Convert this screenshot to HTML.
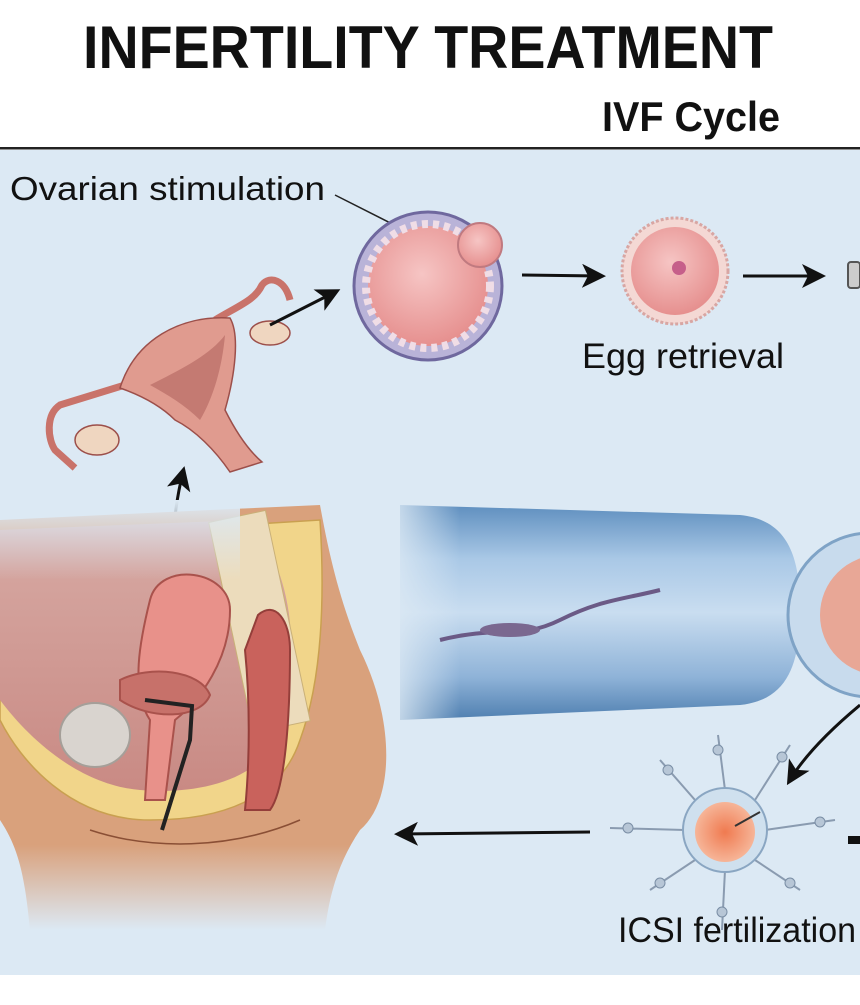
<!DOCTYPE html>
<html><head><style>
html,body{margin:0;padding:0;background:#fff;}
body{width:860px;height:1000px;overflow:hidden;position:relative;font-family:"Liberation Sans Narrow","Liberation Sans",sans-serif;}
</style></head><body>
<svg width="860" height="1000" viewBox="0 0 860 1000" xmlns="http://www.w3.org/2000/svg" font-family="Liberation Sans Narrow, Liberation Sans, sans-serif">
<defs>
<linearGradient id="tube" x1="0" y1="0" x2="0" y2="1">
<stop offset="0" stop-color="#5f8fbf"/><stop offset="0.25" stop-color="#a9c8e6"/><stop offset="0.5" stop-color="#c9ddf0"/><stop offset="0.8" stop-color="#8fb3d8"/><stop offset="1" stop-color="#4f7fb0"/>
</linearGradient>
<linearGradient id="tubefade" x1="0" y1="0" x2="1" y2="0">
<stop offset="0" stop-color="#dce9f4" stop-opacity="0.8"/><stop offset="0.15" stop-color="#dce9f4" stop-opacity="0"/>
</linearGradient>
<linearGradient id="bodyfade" x1="0" y1="0" x2="0" y2="1">
<stop offset="0.8" stop-color="#d9a17c" stop-opacity="1"/><stop offset="1" stop-color="#d9a17c" stop-opacity="0"/>
</linearGradient>
<linearGradient id="topfade" x1="0" y1="0" x2="0" y2="1">
<stop offset="0" stop-color="#dce9f4" stop-opacity="1"/><stop offset="1" stop-color="#dce9f4" stop-opacity="0"/>
</linearGradient>
<radialGradient id="pink" cx="0.45" cy="0.4" r="0.6"><stop offset="0" stop-color="#f6c5c4"/><stop offset="1" stop-color="#e6908f"/></radialGradient>
<radialGradient id="orange" cx="0.5" cy="0.5" r="0.5"><stop offset="0" stop-color="#f07a50"/><stop offset="1" stop-color="#f6b598"/></radialGradient>
<linearGradient id="cav" x1="0" y1="0" x2="0" y2="1"><stop offset="0" stop-color="#d7aaa4"/><stop offset="1" stop-color="#c98a84"/></linearGradient>
<marker id="ah" markerWidth="8" markerHeight="8" refX="6" refY="4" orient="auto" markerUnits="strokeWidth"><path d="M0,0 L8,4 L0,8 L2,4 Z" fill="#111"/></marker>
</defs>
<rect x="0" y="0" width="860" height="150" fill="#fff"/>
<text x="428" y="68" text-anchor="middle" font-size="60" font-weight="bold" fill="#111" textLength="690" lengthAdjust="spacingAndGlyphs">INFERTILITY TREATMENT</text>
<text x="780" y="131" text-anchor="end" font-size="42" font-weight="bold" fill="#111" textLength="178" lengthAdjust="spacingAndGlyphs">IVF Cycle</text>
<rect x="0" y="147" width="860" height="2.5" fill="#222"/>
<rect x="0" y="150" width="860" height="825" fill="#dce9f4"/>
<text x="10" y="200" font-size="33" fill="#111" textLength="315" lengthAdjust="spacingAndGlyphs">Ovarian stimulation</text>
<line x1="335" y1="195" x2="420" y2="238" stroke="#222" stroke-width="1.5"/>
<circle cx="428" cy="286" r="74" fill="#b9b3d8" stroke="#6f689e" stroke-width="3"/>
<circle cx="428" cy="286" r="60" fill="url(#pink)"/>
<circle cx="428" cy="286" r="62" fill="none" stroke="#f0dde6" stroke-width="8" stroke-dasharray="6 5"/>
<circle cx="480" cy="245" r="22" fill="url(#pink)" stroke="#c07a80" stroke-width="2"/>
<line x1="522" y1="275" x2="600" y2="276" stroke="#111" stroke-width="3" marker-end="url(#ah)"/>
<circle cx="675" cy="271" r="53" fill="#f4d8d4" stroke="#d8a6a3" stroke-width="3" stroke-dasharray="3 2"/>
<circle cx="675" cy="271" r="44" fill="url(#pink)"/>
<circle cx="679" cy="268" r="7" fill="#c65f8a"/>
<line x1="743" y1="276" x2="820" y2="276" stroke="#111" stroke-width="3" marker-end="url(#ah)"/>
<rect x="848" y="262" width="12" height="26" rx="3" fill="#ccc" stroke="#555" stroke-width="2"/>
<text x="582" y="368" font-size="35" fill="#111" textLength="202" lengthAdjust="spacingAndGlyphs">Egg retrieval</text>
<g stroke="#9c4f4a" stroke-width="1.5">
<path d="M125,385 L60,405 C45,415 48,440 55,450 L75,468" fill="none" stroke="#c9736a" stroke-width="7"/>
<path d="M215,320 C240,305 255,300 262,285 C270,275 285,280 290,300" fill="none" stroke="#c9736a" stroke-width="7"/>
<path d="M120,388 C135,340 180,315 230,318 C240,335 235,375 225,410 C235,430 248,450 262,462 L230,472 C215,450 195,430 175,420 C160,405 140,395 120,388 Z" fill="#e09b8f"/>
<path d="M150,385 C180,370 210,355 225,335 C222,370 212,400 200,420 C185,405 168,395 150,385 Z" fill="#c47a72" stroke="none"/>
<ellipse cx="97" cy="440" rx="22" ry="15" fill="#efd6c0"/>
<ellipse cx="270" cy="333" rx="20" ry="12" fill="#efd6c0"/>
</g>
<line x1="270" y1="325" x2="335" y2="292" stroke="#111" stroke-width="3" marker-end="url(#ah)"/>
<path d="M172,570 C172,530 176,500 183,472" fill="none" stroke="#111" stroke-width="3" marker-end="url(#ah)"/>
<path d="M0,520 L210,510 L320,505 C330,560 340,600 360,650 C395,720 395,800 360,830 C340,860 330,890 325,930 L30,930 C25,880 20,850 0,820 Z" fill="url(#bodyfade)"/>
<path d="M0,540 L320,520 C325,600 322,680 300,740 C280,800 220,820 150,820 C70,820 20,760 0,720 Z" fill="#f1d58a" stroke="#c9a050" stroke-width="1.5"/>
<path d="M0,530 L245,520 C290,560 300,640 285,720 C270,780 200,795 140,790 C80,785 30,740 0,700 Z" fill="url(#cav)"/>
<rect x="230" y="515" width="58" height="215" fill="#ecdcbc" stroke="#c9b078" stroke-width="1" transform="rotate(-12 255 620)"/>
<rect x="0" y="500" width="240" height="80" fill="url(#topfade)"/>
<path d="M150,600 C160,560 230,570 230,610 C230,660 200,700 175,720 L165,800 L145,800 L150,720 C130,690 140,640 150,600 Z" fill="#e8918a" stroke="#a9524c" stroke-width="2"/>
<path d="M258,615 C275,600 290,620 290,650 C290,720 285,790 270,810 L245,810 C250,760 250,700 245,650 Z" fill="#c9625c" stroke="#943e3a" stroke-width="2"/>
<path d="M120,680 C150,665 200,670 210,695 C200,720 150,720 120,700 Z" fill="#c7716a" stroke="#a9524c" stroke-width="2"/>
<ellipse cx="95" cy="735" rx="35" ry="32" fill="#d9d4cf" stroke="#a59f99" stroke-width="2"/>
<path d="M145,700 L192,706 L190,740 L162,830" fill="none" stroke="#222" stroke-width="4"/>
<path d="M90,830 C150,850 230,850 300,820" fill="none" stroke="#8a4f35" stroke-width="1.5"/>
<path d="M400,505 L740,515 C790,520 800,560 800,610 C800,660 790,700 740,705 L400,720 Z" fill="url(#tube)"/>
<rect x="400" y="500" width="400" height="225" fill="url(#tubefade)"/>
<path d="M440,640 C500,625 520,640 560,620 C600,600 620,600 660,590" fill="none" stroke="#6b5a86" stroke-width="4"/>
<ellipse cx="510" cy="630" rx="30" ry="7" fill="#7a6890"/>
<circle cx="870" cy="615" r="82" fill="#c8dbed" stroke="#7fa3c6" stroke-width="3"/>
<circle cx="880" cy="615" r="60" fill="#e8a796"/>
<path d="M860,705 C830,730 805,755 790,780" fill="none" stroke="#111" stroke-width="3" marker-end="url(#ah)"/>
<g stroke="#8a9bb0" stroke-width="2" fill="none">
<path d="M725,790 L718,735"/><path d="M755,800 L790,745"/><path d="M765,830 L835,820"/><path d="M755,860 L800,890"/>
<path d="M725,870 L722,930"/><path d="M695,860 L650,890"/><path d="M685,830 L610,828"/><path d="M695,800 L660,760"/>
</g>
<g fill="#b7c6d6" stroke="#7a8ea5" stroke-width="1">
<circle cx="718" cy="750" r="5"/><circle cx="782" cy="757" r="5"/><circle cx="820" cy="822" r="5"/><circle cx="790" cy="883" r="5"/>
<circle cx="722" cy="912" r="5"/><circle cx="660" cy="883" r="5"/><circle cx="628" cy="828" r="5"/><circle cx="668" cy="770" r="5"/>
</g>
<circle cx="725" cy="830" r="42" fill="#cfe0ee" stroke="#8aa6c2" stroke-width="2"/>
<circle cx="725" cy="832" r="30" fill="url(#orange)"/>
<line x1="735" y1="826" x2="760" y2="812" stroke="#333" stroke-width="2"/>
<line x1="590" y1="832" x2="400" y2="834" stroke="#111" stroke-width="3" marker-end="url(#ah)"/>
<path d="M860,840 L848,840" stroke="#111" stroke-width="8"/>
<text x="618" y="942" font-size="35" fill="#111" textLength="238" lengthAdjust="spacingAndGlyphs">ICSI fertilization</text>
</svg>
</body></html>
